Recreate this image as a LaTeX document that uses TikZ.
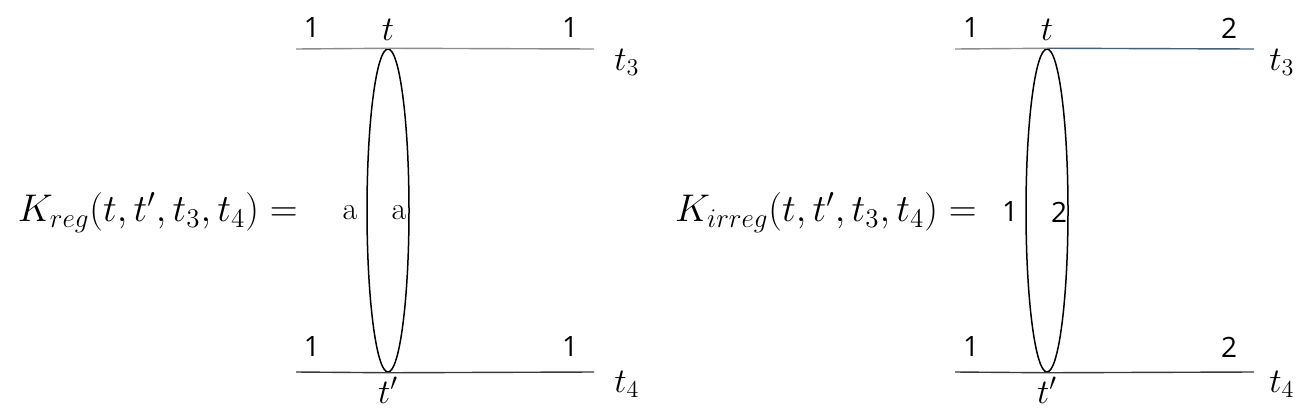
\documentclass[tikz,border=0pt]{standalone}
\usepackage{fix-cm}
\usepackage{fontspec}
\setsansfont{Open Sans}
\usetikzlibrary{shapes.geometric}
\definecolor{topgray}{HTML}{8C8C8C}
\definecolor{botgray}{HTML}{3A3A3A}
\definecolor{slate}{HTML}{44607A}
\tikzset{
  loopell/.style={draw, ellipse, line width=0.75pt, minimum width=21pt, minimum height=161.5pt, inner sep=0pt},
  topline/.style={draw=topgray, line width=0.7pt},
  botline/.style={draw=botgray, line width=0.7pt},
  num/.style={font=\sffamily\fontsize{14}{15}\selectfont, inner sep=0pt},
  lbl/.style={font=\fontsize{17.3}{18}\selectfont, inner sep=0pt},
  eqn/.style={font=\fontsize{19.3}{21}\selectfont, inner sep=0pt, anchor=east},
  innera/.style={font=\rmfamily\fontsize{16}{17}\selectfont, inner sep=0pt}
}
\begin{document}
\begin{tikzpicture}[x=0.5pt,y=-0.5pt]
\useasboundingbox (0,0) rectangle (1296,413);
% ---------- left diagram ----------
\node[eqn] (eqL) at (298,213) {$K_{reg}(t,t',t_3,t_4) =$};
\node[loopell] (EL) at (388,210.5) {};
\coordinate (LA1) at (296,49);
\coordinate (LA2) at (594,49);
\coordinate (LB1) at (296,372);
\coordinate (LB2) at (594,372);
\draw[topline] (LA1) -- (EL.north) -- (LA2);
\draw[botline] (LB1) -- (EL.south) -- (LB2);
\node[num] (L1) at (312,28) {1};
\node[num] (L2) at (570,28) {1};
\node[num] (L3) at (312,347) {1};
\node[num] (L4) at (570,347) {1};
\node[lbl] (Lt) at (388,30) {$t$};
\node[lbl] (Ltp) at (388,390) {$t'$};
\node[lbl] (Lt3) at (627,62) {$t_3$};
\node[lbl] (Lt4) at (627,384) {$t_4$};
\node[innera] (La) at (350,213) {a};
\node[innera] (Lb) at (399,213) {a};
% ---------- right diagram ----------
\node[eqn] (eqR) at (977,213) {$K_{irreg}(t,t',t_3,t_4) =$};
\node[loopell] (ER) at (1047,210.5) {};
\coordinate (RA1) at (955,49);
\coordinate (RA2) at (1254,49);
\coordinate (RB1) at (955,372);
\coordinate (RB2) at (1254,372);
\draw[topline] (RA1) -- (ER.north);
\draw[draw=slate, line width=0.7pt] (ER.north) -- (RA2);
\draw[botline] (RB1) -- (ER.south) -- (RB2);
\node[num] (R1) at (971,28) {1};
\node[num] (R2) at (1229,28) {2};
\node[num] (R3) at (971,347) {1};
\node[num] (R4) at (1229,347) {2};
\node[lbl] (Rt) at (1047,30) {$t$};
\node[lbl] (Rtp) at (1047,390) {$t'$};
\node[lbl] (Rt3) at (1282,62) {$t_3$};
\node[lbl] (Rt4) at (1282,384) {$t_4$};
\node[num] (Ra) at (1010,212) {1};
\node[num] (Rb) at (1059,212) {2};
\end{tikzpicture}
\end{document}
